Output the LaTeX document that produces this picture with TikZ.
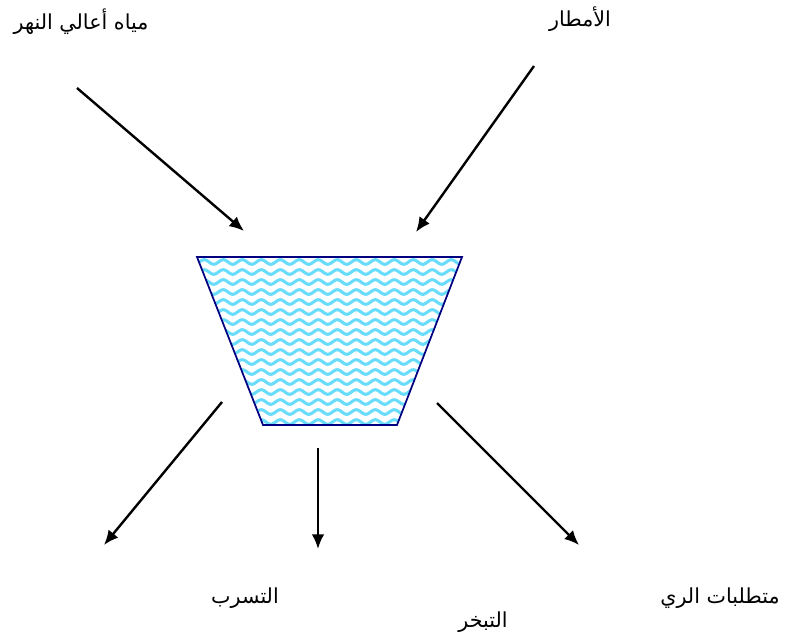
\documentclass[tikz,border=0pt]{standalone}
\usepackage{fontspec}
\newfontfamily\arabicfont[Script=Arabic]{DejaVu Sans}
\TeXXeTstate=1
\usetikzlibrary{arrows.meta}
\definecolor{wavecol}{RGB}{40,205,250}
\definecolor{rimcol}{RGB}{0,0,128}
\begin{document}
\begin{tikzpicture}[x=0.75pt,y=-0.75pt,
  flow/.style={line width=1.8pt,-{Latex[length=11pt,width=9.5pt]}},
  lab/.style={font=\arabicfont\fontsize{15.5}{18}\selectfont,inner sep=0pt}]
\useasboundingbox (0,0) rectangle (803,640);
% reservoir
\coordinate (tl) at (197,257);
\coordinate (tr) at (462,257);
\coordinate (br) at (397,425);
\coordinate (bl) at (263,425);
\begin{scope}
\clip (tl) -- (tr) -- (br) -- (bl) -- cycle;
\foreach \r in {0,...,17}{
  \draw[wavecol!70,line width=2.3pt] plot[domain=0:280,samples=200,smooth]
    ({190+\x},{262+10*\r+2.3*sin((\x/19)*360)});
}
\end{scope}
\draw[rimcol,line width=1.3pt,line join=miter] (tl) -- (tr) -- (br) -- (bl) -- cycle;
% arrow end points
\coordinate (a1s) at (77,88);   \coordinate (a1e) at (244,231);
\coordinate (a2s) at (534,66);  \coordinate (a2e) at (416,232);
\coordinate (a3s) at (222,402); \coordinate (a3e) at (104,545);
\coordinate (a4s) at (318,448); \coordinate (a4e) at (318,549);
\coordinate (a5s) at (437,403); \coordinate (a5e) at (579,545);
\draw[flow] (a1s) -- (a1e);
\draw[flow] (a2s) -- (a2e);
\draw[flow] (a3s) -- (a3e);
\draw[flow] (a4s) -- (a4e);
\draw[flow] (a5s) -- (a5e);
% labels
\node[lab] (upstream) at (81,22) {\beginR مياه أعالي النهر\endR};
\node[lab] (rain) at (580,19) {\beginR الأمطار\endR};
\node[lab] (seep) at (245,598) {\beginR التسرب\endR};
\node[lab] (evap) at (483,622) {\beginR التبخر\endR};
\node[lab] (irrig) at (720,598) {\beginR متطلبات الري\endR};
\end{tikzpicture}
\end{document}
